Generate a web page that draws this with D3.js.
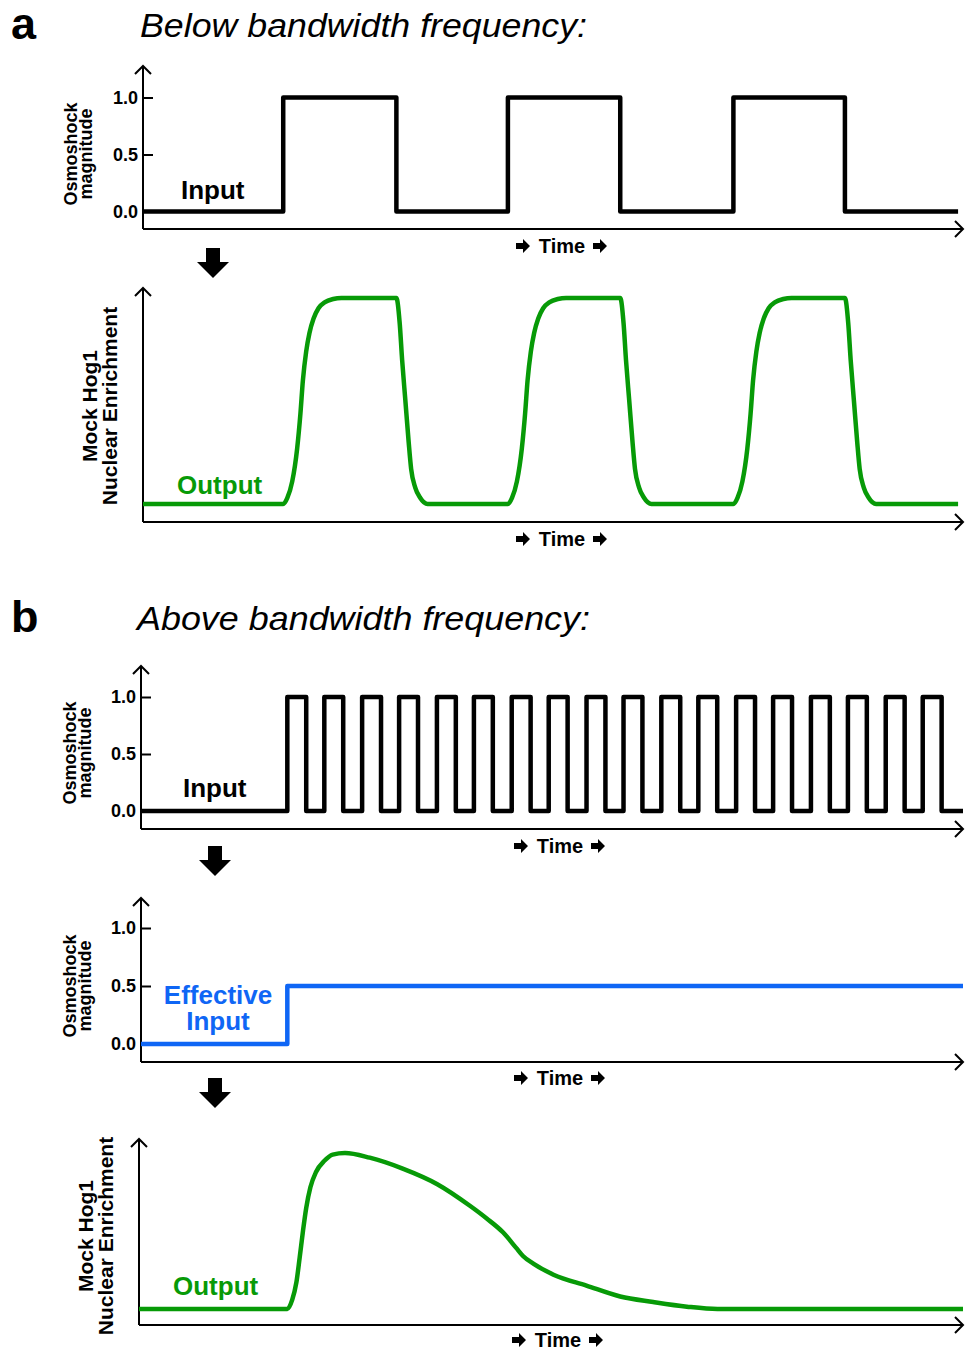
<!DOCTYPE html>
<html>
<head>
<meta charset="utf-8">
<script src="https://cdn.jsdelivr.net/npm/d3@7"></script>
<style>
  body { margin: 0; background: #fff; }
  svg { display: block; }
  text { font-family: "Liberation Sans", Arial, Helvetica, sans-serif; }
</style>
</head>
<body>
<svg id="fig" width="965" height="1351"></svg>
<script>
// ---- data (time in arbitrary units 0..100, magnitude 0..1) ----

// panel a: slow square wave input
const inputA = [[0, 0], [17.1, 1], [30.9, 0], [44.5, 1], [58.2, 0], [72.0, 1], [85.6, 0], [99.4, 0]];

// panel a: output follows every pulse
const outputATime = [
  0, 17.1, 17.6, 18.2, 18.8, 19.2, 19.5, 19.9, 20.3, 20.8, 21.4, 22.2, 23.2, 24.2,
  30.9, 31.3, 31.6, 32.0, 32.4, 32.7, 33.2, 33.8, 34.7,
  44.5, 45.0, 45.6, 46.2, 46.6, 46.9, 47.3, 47.7, 48.2, 48.8, 49.6, 50.6, 51.6,
  58.2, 58.6, 58.9, 59.3, 59.7, 60.0, 60.5, 61.1, 62.0,
  72.0, 72.5, 73.1, 73.7, 74.1, 74.4, 74.8, 75.2, 75.7, 76.3, 77.1, 78.1, 79.1,
  85.6, 86.0, 86.3, 86.7, 87.1, 87.4, 87.9, 88.5, 89.4, 99.4
];
const outputAValue = [
  0, 0, 0.03, 0.11, 0.27, 0.44, 0.60, 0.74, 0.83, 0.90, 0.95, 0.98, 0.995, 1,
  1, 0.88, 0.70, 0.50, 0.30, 0.17, 0.08, 0.03, 0,
  0, 0.03, 0.11, 0.27, 0.44, 0.60, 0.74, 0.83, 0.90, 0.95, 0.98, 0.995, 1,
  1, 0.88, 0.70, 0.50, 0.30, 0.17, 0.08, 0.03, 0,
  0, 0.03, 0.11, 0.27, 0.44, 0.60, 0.74, 0.83, 0.90, 0.95, 0.98, 0.995, 1,
  1, 0.88, 0.70, 0.50, 0.30, 0.17, 0.08, 0.03, 0, 0
];

// panel b: fast pulse train
const pulseOnB  = [17.8, 22.3, 26.9, 31.4, 36.0, 40.5, 45.1, 49.6, 54.2, 58.7, 63.3, 67.8, 72.4, 76.9, 81.5, 86.0, 90.6, 95.1];
const pulseOffB = [20.1, 24.6, 29.2, 33.7, 38.3, 42.8, 47.4, 51.9, 56.5, 61.0, 65.6, 70.1, 74.7, 79.2, 83.8, 88.3, 92.9, 97.4];
const inputBEnd = 100;

// panel b: what the cell effectively sees
const effectiveInputB = [[0, 0], [17.8, 0.5], [100, 0.5]];

// panel b: adaptive output
const outputBTime  = [0, 18.0, 18.6, 19.1, 19.5, 19.9, 20.3, 20.8, 21.5, 22.5, 23.5, 25.0, 28.0, 32.0, 36.2, 40.2, 42.2, 44.2, 45.8, 46.6, 47.9, 50.3, 54.3, 58.4, 62.4, 66.5, 70.2, 100];
const outputBValue = [0, 0, 0.06, 0.17, 0.33, 0.50, 0.65, 0.78, 0.88, 0.95, 0.99, 1.0, 0.97, 0.90, 0.80, 0.66, 0.58, 0.49, 0.39, 0.34, 0.29, 0.22, 0.15, 0.08, 0.045, 0.015, 0, 0];

const yTickValues = [0, 0.5, 1];

const BLACK = "#000";
const GREEN = "#079a07";
const BLUE = "#0f66f5";

const svg = d3.select("#fig");

// ---- helpers ----
function drawPanel(cfg) {
  const g = svg.append("g");

  const x = d3.scaleLinear().domain([0, 100]).range([cfg.axisX, cfg.right]);
  const y = d3.scaleLinear().domain([0, 1]).range([cfg.y0, cfg.y1]);

  // y ticks (pointing into the plot)
  if (cfg.ticks) {
    const yAxis = d3.axisLeft(y)
      .tickValues(yTickValues)
      .tickFormat(d3.format(".1f"))
      .tickSizeInner(-10)
      .tickSizeOuter(0)
      .tickPadding(5);
    const ax = g.append("g")
      .attr("transform", `translate(${cfg.axisX},0)`)
      .call(yAxis);
    ax.select(".domain").remove();
    ax.selectAll(".tick line").attr("stroke", BLACK).attr("stroke-width", 2);
    ax.selectAll(".tick text")
      .attr("fill", BLACK)
      .style("font-size", "18px")
      .style("font-weight", "bold")
      .style("font-family", "'Liberation Sans', Arial, sans-serif");
  }

  // axes with open arrowheads
  const axisG = g.append("g")
    .attr("fill", "none")
    .attr("stroke", BLACK)
    .attr("stroke-width", 2);
  axisG.append("path")
    .attr("d", `M${cfg.axisX},${cfg.xAxisY}V${cfg.top}`);
  axisG.append("path")
    .attr("d", `M${cfg.axisX - 8},${cfg.top + 8}L${cfg.axisX},${cfg.top}L${cfg.axisX + 8},${cfg.top + 8}`);
  axisG.append("path")
    .attr("d", `M${cfg.axisX},${cfg.xAxisY}H${cfg.right}`);
  axisG.append("path")
    .attr("d", `M${cfg.right - 8},${cfg.xAxisY - 8}L${cfg.right},${cfg.xAxisY}L${cfg.right - 8},${cfg.xAxisY + 8}`);

  // the signal
  const line = d3.line()
    .x(d => x(d[0]))
    .y(d => y(d[1]))
    .curve(cfg.curve);
  g.append("path")
    .datum(cfg.data)
    .attr("d", line)
    .attr("fill", "none")
    .attr("stroke", cfg.color)
    .attr("stroke-width", 4.5)
    .attr("stroke-linejoin", "round");

  // y axis title (rotated, two lines)
  const yt = g.append("text")
    .attr("transform", `translate(${cfg.titleX},${cfg.titleY}) rotate(-90)`)
    .attr("text-anchor", "middle")
    .style("font-weight", "bold")
    .style("font-size", cfg.titleSize + "px");
  cfg.title.forEach((t, i) => {
    yt.append("tspan")
      .attr("x", 0)
      .attr("y", i * cfg.titleGap)
      .text(t);
  });

  // in-plot label
  const lab = g.append("text")
    .attr("fill", cfg.color)
    .attr("text-anchor", cfg.labelAnchor || "start")
    .style("font-weight", "bold")
    .style("font-size", "26px");
  cfg.label.forEach((t, i) => {
    lab.append("tspan")
      .attr("x", cfg.labelX)
      .attr("y", cfg.labelY + i * 26)
      .text(t);
  });

  drawTimeLabel(cfg.axisX + 419, cfg.xAxisY + cfg.timeGap);
}

function drawTimeLabel(cx, cy) {
  const g = svg.append("g").attr("transform", `translate(${cx},${cy})`);
  const arrow = "M0,-3H7V-7L14,0L7,7V3H0Z";
  g.append("path").attr("d", arrow).attr("transform", "translate(-46,0)").attr("fill", BLACK);
  g.append("path").attr("d", arrow).attr("transform", "translate(31,0)").attr("fill", BLACK);
  g.append("text")
    .attr("x", 0)
    .attr("y", 7)
    .attr("text-anchor", "middle")
    .style("font-weight", "bold")
    .style("font-size", "20px")
    .text("Time");
}

function drawDownArrow(cx, top) {
  svg.append("path")
    .attr("transform", `translate(${cx},${top})`)
    .attr("d", "M-7,0H7V14H16L0,30L-16,14H-7Z")
    .attr("fill", BLACK);
}

function drawHeading(letter, title, y, titleX, titleLen) {
  svg.append("text")
    .attr("x", 11)
    .attr("y", y + 2)
    .style("font-weight", "bold")
    .style("font-size", "45px")
    .text(letter);
  svg.append("text")
    .attr("x", titleX)
    .attr("y", y)
    .attr("textLength", titleLen)
    .attr("lengthAdjust", "spacingAndGlyphs")
    .style("font-style", "italic")
    .style("font-size", "34px")
    .text(title);
}

// ---- build the step table for the fast input ----
const inputB = [[0, 0]];
pulseOnB.forEach((on, i) => {
  inputB.push([on, 1]);
  inputB.push([pulseOffB[i], 0]);
});
inputB.push([inputBEnd, 0]);

const outputA = outputATime.map((t, i) => [t, outputAValue[i]]);
const outputB = outputBTime.map((t, i) => [t, outputBValue[i]]);

// ---- panel a ----
drawHeading("a", "Below bandwidth frequency:", 37, 140, 447);

drawPanel({
  axisX: 143, right: 963, top: 66, xAxisY: 229, y0: 211.5, y1: 97.5,
  ticks: true, data: inputA, curve: d3.curveStepAfter, color: BLACK,
  title: ["Osmoshock", "magnitude"], titleX: 77, titleY: 154, titleSize: 18, titleGap: 15,
  label: ["Input"], labelX: 181, labelY: 199, timeGap: 17
});
drawDownArrow(213, 248);

drawPanel({
  axisX: 143, right: 963, top: 288, xAxisY: 522, y0: 504, y1: 298,
  ticks: false, data: outputA, curve: d3.curveMonotoneX, color: GREEN,
  title: ["Mock Hog1", "Nuclear Enrichment"], titleX: 97, titleY: 406, titleSize: 21, titleGap: 20,
  label: ["Output"], labelX: 177, labelY: 494, timeGap: 17
});

// ---- panel b ----
drawHeading("b", "Above bandwidth frequency:", 630, 137, 453);

drawPanel({
  axisX: 141, right: 963, top: 666, xAxisY: 829, y0: 811, y1: 697,
  ticks: true, data: inputB, curve: d3.curveStepAfter, color: BLACK,
  title: ["Osmoshock", "magnitude"], titleX: 76, titleY: 753, titleSize: 18, titleGap: 15,
  label: ["Input"], labelX: 183, labelY: 797, timeGap: 17
});
drawDownArrow(215, 846);

drawPanel({
  axisX: 141, right: 963, top: 898, xAxisY: 1062, y0: 1044, y1: 928,
  ticks: true, data: effectiveInputB, curve: d3.curveStepAfter, color: BLUE,
  title: ["Osmoshock", "magnitude"], titleX: 76, titleY: 986, titleSize: 18, titleGap: 15,
  label: ["Effective", "Input"], labelX: 218, labelY: 1004, labelAnchor: "middle", timeGap: 16
});
drawDownArrow(215, 1078);

drawPanel({
  axisX: 139, right: 963, top: 1139, xAxisY: 1325, y0: 1309, y1: 1153,
  ticks: false, data: outputB, curve: d3.curveMonotoneX, color: GREEN,
  title: ["Mock Hog1", "Nuclear Enrichment"], titleX: 93, titleY: 1236, titleSize: 21, titleGap: 20,
  label: ["Output"], labelX: 173, labelY: 1295, timeGap: 15
});
</script>
</body>
</html>
